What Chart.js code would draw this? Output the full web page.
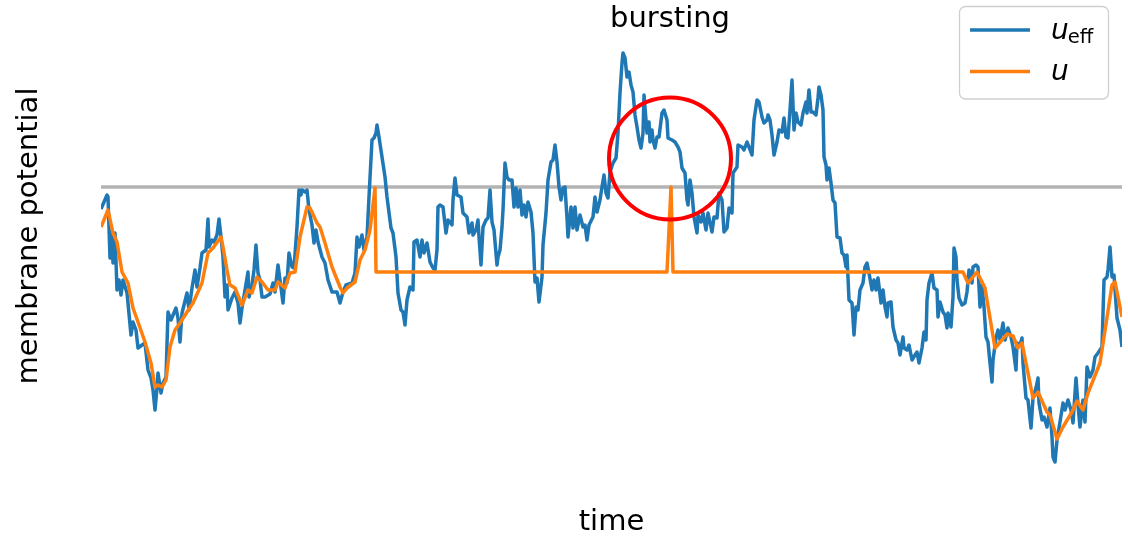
<!DOCTYPE html>
<html>
<head>
<meta charset="utf-8">
<script src="https://cdn.jsdelivr.net/npm/chart.js@4.4.0/dist/chart.umd.min.js"></script>
<style>
  html, body { margin: 0; padding: 0; background: #fff; }
  #chart { display: block; }
</style>
</head>
<body>
<canvas id="chart" width="1128" height="536"></canvas>
<script>
// effective potential u_eff (noisy input) sampled over time
const timeEff = [
  0, 6, 7, 9, 11, 12, 14, 16, 18, 20,
  22, 26, 27, 30, 32, 35, 37, 41, 44, 47,
  50, 52, 54, 56, 57, 60, 62, 65, 67, 70,
  75, 77, 79, 81, 86, 88, 91, 94, 96, 99,
  101, 105, 107, 108, 111, 113, 116, 118, 120, 122,
  124, 126, 127, 131, 134, 137, 139, 141, 144, 147,
  148, 151, 153, 155, 157, 159, 161, 164, 169, 172,
  174, 177, 179, 182, 184, 186, 188, 191, 193, 196,
  198, 200, 201, 204, 206, 208, 211, 213, 215, 217,
  221, 224, 227, 231, 236, 239, 242, 245, 251, 254,
  256, 258, 261, 263, 266, 268, 271, 273, 275, 276,
  278, 281, 284, 286, 290, 292, 295, 297, 300, 302,
  304, 306, 309, 312, 313, 316, 319, 321, 323, 326,
  329, 332, 334, 336, 337, 339, 342, 345, 347, 351,
  352, 354, 356, 360, 362, 366, 368, 371, 372, 375,
  377, 378, 380, 382, 385, 387, 389, 391, 393, 396,
  397, 399, 401, 402, 404, 406, 408, 411, 413, 415,
  417, 419, 421, 423, 425, 427, 430, 432, 434, 436,
  438, 441, 442, 445, 447, 450, 452, 454, 456, 458,
  460, 462, 464, 466, 467, 470, 472, 474, 476, 479,
  482, 484, 486, 488, 492, 494, 496, 499, 501, 503,
  505, 507, 509, 512, 515, 517, 519, 521, 522, 524,
  526, 528, 530, 532, 534, 536, 538, 540, 542, 543,
  546, 548, 549, 551, 552, 554, 556, 558, 561, 563,
  566, 567, 571, 574, 577, 579, 581, 584, 586, 587,
  589, 591, 593, 596, 597, 600, 602, 605, 607, 611,
  613, 616, 618, 621, 623, 626, 628, 631, 632, 636,
  637, 641, 643, 646, 648, 651, 653, 656, 658, 661,
  663, 666, 667, 669, 671, 673, 676, 678, 681, 683,
  685, 687, 689, 691, 693, 695, 697, 700, 702, 705,
  706, 708, 710, 712, 715, 717, 718, 720, 722, 723,
  725, 726, 728, 730, 732, 734, 736, 739, 741, 743,
  745, 746, 748, 751, 753, 755, 757, 759, 762, 764,
  766, 768, 771, 773, 775, 777, 780, 782, 784, 786,
  787, 790, 792, 795, 797, 799, 802, 803, 806, 808,
  811, 814, 816, 818, 821, 823, 825, 826, 828, 831,
  833, 836, 837, 839, 842, 844, 846, 847, 850, 852,
  853, 855, 856, 858, 861, 864, 866, 868, 871, 872,
  875, 877, 879, 881, 883, 885, 887, 889, 891, 892,
  895, 897, 899, 902, 904, 907, 910, 912, 915, 916,
  919, 921, 922, 925, 927, 930, 932, 935, 937, 938,
  941, 943, 946, 949, 951, 952, 954, 956, 959, 962,
  964, 967, 970, 972, 975, 977, 979, 982, 984, 986,
  989, 992, 994, 997, 1001, 1003, 1006, 1007, 1009, 1011,
  1013, 1016, 1019, 1021
]
const uEff = [
  6.3, 7.7, 7.5, 1.4, 4.0, 0.9, 3.9, -1.8, -0.8, -2.3,
  -0.8, -2.1, -3.1, -6.3, -5.0, -5.8, -7.6, -7.3, -7.1, -9.8,
  -10.6, -11.8, -13.8, -11.6, -10.1, -12.1, -11.1, -10.5, -4.0, -4.8,
  -3.6, -4.6, -7.0, -4.1, -2.1, -3.8, -1.6, 0.2, -1.5, 0.4,
  1.9, 2.2, 5.3, 2.5, 3.2, 3.0, 3.7, 5.3, 3.5, 1.5,
  -2.5, -1.3, -3.8, -2.6, -2.0, -3.1, -5.1, -3.6, -1.8, 0.0,
  -2.5, -1.3, 0.2, 2.7, -0.1, -0.8, -2.5, -2.5, -2.2, -1.1,
  -2.0, 0.7, -0.8, -3.1, -0.6, -1.1, 1.9, 0.5, 0.4, 4.5,
  8.2, 7.7, 8.2, 8.0, 8.2, 6.2, 4.7, 2.9, 4.2, 3.0,
  1.5, 0.9, -0.8, -2.0, -2.0, -3.1, -2.0, -1.3, -1.1, -0.1,
  3.5, 2.5, 3.7, 2.2, 3.5, 7.5, 13.2, 13.4, 13.9, 14.7,
  13.5, 11.5, 9.5, 7.5, 4.4, 3.9, 1.5, -2.1, -3.8, -4.0,
  -5.3, -2.8, -1.5, -1.8, 3.0, 3.2, 1.5, 3.2, 1.9, 2.9,
  1.0, 0.4, 0.2, 2.2, 6.5, 6.7, 6.5, 3.9, 5.2, 4.7,
  7.2, 9.4, 7.7, 7.5, 5.9, 5.5, 3.9, 4.9, 3.7, 4.2,
  5.2, 3.5, 0.7, 4.5, 5.2, 5.4, 8.2, 5.0, 4.2, 0.7,
  1.5, 2.2, 4.5, 6.2, 10.9, 9.5, 9.2, 9.2, 6.5, 8.4,
  6.5, 8.2, 5.7, 6.7, 5.5, 7.0, 6.0, 3.9, -1.0, -0.6,
  -3.0, -0.5, 2.7, 5.9, 9.2, 11.0, 11.2, 12.7, 11.0, 8.5,
  7.2, 8.4, 8.5, 5.4, 3.5, 6.5, 4.4, 6.5, 4.2, 5.7,
  4.5, 4.7, 3.2, 4.7, 5.5, 7.5, 6.0, 7.2, 8.5, 9.7,
  7.9, 7.4, 10.0, 10.9, 11.4, 13.9, 17.9, 20.9, 21.9, 21.4,
  19.5, 20.0, 18.7, 18.0, 15.7, 14.5, 13.2, 12.4, 13.9, 17.7,
  13.9, 15.0, 13.0, 14.2, 13.2, 12.4, 13.5, 13.5, 15.9, 16.2,
  15.2, 13.4, 13.2, 13.0, 12.5, 12.0, 10.4, 9.9, 7.2, 6.7,
  9.2, 7.9, 5.5, 3.9, 5.7, 5.0, 5.9, 4.2, 5.9, 4.0,
  5.5, 5.4, 7.9, 7.2, 4.0, 4.4, 6.4, 5.9, 9.9, 10.5,
  12.7, 12.5, 12.2, 13.0, 12.5, 11.7, 15.2, 17.2, 17.0, 15.5,
  14.9, 15.2, 15.7, 15.2, 13.7, 11.7, 13.0, 14.2, 14.0, 15.4,
  13.5, 13.4, 16.2, 19.2, 14.2, 15.9, 15.0, 14.7, 15.9, 17.0,
  15.9, 18.2, 16.0, 16.0, 15.7, 17.4, 18.5, 17.7, 16.2, 11.5,
  10.7, 9.2, 10.4, 8.9, 7.2, 6.9, 3.5, 3.4, 1.9, 1.7,
  0.5, 1.7, -2.8, -3.1, -6.3, -3.5, -3.8, -1.8, -1.1, 0.5,
  0.9, -0.1, -1.8, -0.8, -1.8, -0.6, -3.1, -1.8, -3.5, -4.5,
  -3.1, -3.0, -5.5, -6.8, -7.1, -8.3, -6.5, -7.6, -7.8, -7.3,
  -8.8, -8.3, -8.0, -9.1, -7.6, -6.0, -6.8, -2.8, -1.1, -0.1,
  -1.6, -1.8, -4.5, -3.0, -4.0, -4.3, -5.6, -4.1, -5.5, -2.5,
  2.4, 1.5, -0.8, -2.6, -3.3, -3.1, -2.0, 0.2, -1.1, 0.5,
  0.7, 0.5, -3.5, -1.3, -3.5, -6.5, -7.0, -9.1, -11.0, -8.8,
  -6.6, -5.8, -6.8, -5.1, -6.8, -5.6, -6.5, -7.5, -9.8, -7.1,
  -7.3, -6.6, -9.1, -12.6, -12.8, -15.6, -12.6, -11.6, -10.6, -13.1,
  -14.8, -14.5, -15.5, -13.6, -16.5, -18.5, -19.0, -16.8, -15.0, -13.1,
  -13.8, -12.8, -13.8, -15.1, -10.6, -13.3, -15.5, -12.8, -15.0, -9.5,
  -10.5, -9.8, -8.5, -8.1, -7.5, -0.8, -0.5, 0.2, 2.5, -0.5,
  -0.3, -4.6, -5.8, -7.5
]

// membrane potential u: smooth, resets after each spike
const timeU = [
  0, 7, 12, 16, 21, 27, 32, 37, 44, 50,
  54, 57, 61, 65, 69, 74, 79, 86, 92, 101,
  107, 112, 120, 122, 126, 129, 134, 141, 147, 151,
  156, 161, 167, 174, 177, 184, 189, 194, 199, 206,
  209, 216, 219, 224, 231, 239, 242, 246, 254, 259,
  264, 269, 274, 275, 566, 570, 572, 862, 867, 876,
  884, 894, 901, 906, 912, 917, 921, 932, 937, 946,
  949, 956, 962, 971, 976, 982, 987, 999, 1011, 1014,
  1021
]
const u = [
  4.5, 6.2, 3.9, 3.0, 0.0, -1.1, -3.6, -5.0, -7.0, -9.1,
  -11.5, -11.3, -11.5, -10.8, -7.5, -5.8, -5.1, -4.0, -3.1, -1.1,
  1.9, 2.4, 3.5, 2.5, 0.2, -1.3, -1.6, -3.3, -1.8, -2.1,
  -0.5, -1.0, -1.8, -1.8, -1.0, -1.6, -0.1, 0.0, 3.5, 6.5,
  6.4, 4.9, 4.5, 2.9, 0.5, -1.5, -2.1, -1.6, -1.0, 1.2,
  2.2, 4.2, 8.4, 0.0, 0.0, 8.5, 0.0, 0.0, -1.1, 0.0,
  -1.6, -7.6, -6.8, -6.2, -6.4, -7.6, -7.1, -12.6, -12.0, -14.0,
  -14.3, -16.7, -15.5, -14.0, -12.9, -13.8, -12.1, -9.1, -1.3, -1.0,
  -4.5
]

const threshold = 8.5
const tMax = 1021
// marked burst
const burstTime = 569
const burstLevel = 11.35
const burstLabel = "bursting"

const blue = "#1f77b4"
const orange = "#ff7f0e"
const FONT = '"DejaVu Sans", sans-serif'

const pts = (xs, ys) => xs.map((x, i) => ({ x: x, y: ys[i] }))

// axis labels, annotation and a legend box in the upper right
const textPlugin = {
  id: "texts",
  afterDraw(chart) {
    const ctx = chart.ctx
    const area = chart.chartArea
    const xs = chart.scales.x
    ctx.save()
    ctx.fillStyle = "#000"
    ctx.font = "29px " + FONT
    ctx.textBaseline = "alphabetic"
    ctx.textAlign = "center"
    ctx.fillText(burstLabel, xs.getPixelForValue(burstTime), 27)
    ctx.fillText("time", (area.left + area.right) / 2, 530)

    ctx.save()
    ctx.translate(37, 236)
    ctx.rotate(-Math.PI / 2)
    ctx.fillText("membrane potential", 0, 0)
    ctx.restore()

    // legend
    const bx = 959.5, by = 6.5, bw = 149, bh = 92.5, r = 6
    ctx.beginPath()
    ctx.moveTo(bx + r, by)
    ctx.arcTo(bx + bw, by, bx + bw, by + bh, r)
    ctx.arcTo(bx + bw, by + bh, bx, by + bh, r)
    ctx.arcTo(bx, by + bh, bx, by, r)
    ctx.arcTo(bx, by, bx + bw, by, r)
    ctx.closePath()
    ctx.fillStyle = "rgba(255,255,255,0.8)"
    ctx.fill()
    ctx.strokeStyle = "#d0d0d0"
    ctx.lineWidth = 1.3
    ctx.stroke()

    const rows = [
      { color: blue, y: 30, base: 38.5, sub: "eff" },
      { color: orange, y: 71.5, base: 80, sub: "" },
    ]
    rows.forEach((row) => {
      ctx.beginPath()
      ctx.moveTo(970, row.y)
      ctx.lineTo(1030, row.y)
      ctx.strokeStyle = row.color
      ctx.lineWidth = 3.5
      ctx.stroke()

      ctx.fillStyle = "#000"
      ctx.textAlign = "left"
      ctx.font = "italic 28px " + FONT
      ctx.fillText("u", 1051, row.base)
      if (row.sub) {
        const w = ctx.measureText("u").width
        ctx.font = "19.6px " + FONT
        ctx.fillText(row.sub, 1051 + w - 1, row.base + 4.5)
      }
    })
    ctx.restore()
  },
}

new Chart(document.getElementById("chart"), {
  type: "line",
  data: {
    datasets: [
      {
        label: "burst",
        type: "scatter",
        data: [{ x: burstTime, y: burstLevel }],
        showLine: false,
        pointRadius: 61,
        pointBorderWidth: 4,
        pointBorderColor: "#ff0000",
        pointBackgroundColor: "rgba(0,0,0,0)",
      },
      {
        label: "u",
        data: pts(timeU, u),
        borderColor: orange,
        borderWidth: 3.5,
        pointRadius: 0,
        tension: 0,
        borderJoinStyle: "round",
      },
      {
        label: "u_eff",
        data: pts(timeEff, uEff),
        borderColor: blue,
        borderWidth: 3.5,
        pointRadius: 0,
        tension: 0,
        borderJoinStyle: "round",
      },
      {
        label: "threshold",
        data: [{ x: 0, y: threshold }, { x: tMax, y: threshold }],
        borderColor: "#b3b3b3",
        borderWidth: 3.5,
        pointRadius: 0,
      },
    ],
  },
  options: {
    responsive: false,
    animation: false,
    devicePixelRatio: 1,
    events: [],
    layout: { autoPadding: false, padding: { left: 101, right: 6, top: 30, bottom: 56 } },
    scales: {
      x: { type: "linear", min: 0, max: tMax, display: false },
      y: { type: "linear", min: -20.8, max: 24.2, display: false },
    },
    plugins: {
      legend: { display: false },
      title: { display: false },
      tooltip: { enabled: false },
    },
  },
  plugins: [textPlugin],
})
</script>
</body>
</html>
